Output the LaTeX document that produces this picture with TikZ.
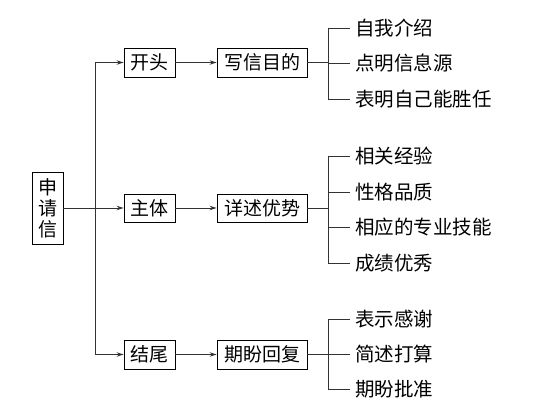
\documentclass[tikz,border=0pt]{standalone}
\usepackage{fontspec}
\setmainfont{Noto Sans CJK SC}
\usetikzlibrary{arrows.meta}
\tikzset{
  box/.style={draw=black, line width=0.9pt, inner sep=0pt, minimum height=29pt, font=\fontsize{19}{21}\selectfont},
  item/.style={anchor=west, inner sep=0pt, font=\fontsize{19.5}{21}\selectfont},
  conn/.style={draw=black!80, line width=0.9pt},
  arr/.style={conn, -{Stealth[length=7pt,width=4.5pt]}}
}
\begin{document}
\begin{tikzpicture}[x=1pt,y=-1pt]
\useasboundingbox (0,0) rectangle (539,419);
% main nodes
\node[box, minimum width=31pt, minimum height=72pt, align=center] (sqx) at (47.5,208) {申\\请\\信};
\node[box, minimum width=51pt] (kt) at (149.5,62.5) {开头};
\node[box, minimum width=90pt] (xx) at (262,62.5) {写信目的};
\node[box, minimum width=51pt, minimum height=28pt] (zt) at (149.5,208) {主体};
\node[box, minimum width=90pt, minimum height=28pt] (xs) at (262,208) {详述优势};
\node[box, minimum width=51pt] (jw) at (149.5,354.5) {结尾};
\node[box, minimum width=90pt] (pp) at (262,354.5) {期盼回复};
% left trunk
\coordinate (v) at (95,208);
\draw[arr] (v) |- (kt.west);
\draw[arr] (v) |- (jw.west);
\draw[arr] (sqx.east) -- (zt.west);
\draw[arr] (kt.east) -- (xx.west);
\draw[arr] (zt.east) -- (xs.west);
\draw[arr] (jw.east) -- (pp.west);
% items
\node[item] (a1) at (355,28) {自我介绍};
\node[item] (a2) at (355,63.5) {点明信息源};
\node[item] (a3) at (355,99) {表明自己能胜任};
\node[item] (b1) at (355,156) {相关经验};
\node[item] (b2) at (355,192) {性格品质};
\node[item] (b3) at (355,227.5) {相应的专业技能};
\node[item] (b4) at (355,263) {成绩优秀};
\node[item] (c1) at (355,319) {表示感谢};
\node[item] (c2) at (355,354) {简述打算};
\node[item] (c3) at (355,389) {期盼批准};
% brackets
\coordinate (ta) at (328,62.5);
\coordinate (tb) at (328,208);
\coordinate (tc) at (328,354.5);
\draw[conn] (xx.east) -- (ta);
\draw[conn] (xs.east) -- (tb);
\draw[conn] (pp.east) -- (tc);
\draw[conn] ([xshift=-5pt]a1.west) -| (ta);
\draw[conn] ([xshift=-5pt]a3.west) -| (ta);
\draw[conn] ([xshift=-5pt]a2.west) -- (a2.west -| ta);
\draw[conn] ([xshift=-5pt]b1.west) -| (tb);
\draw[conn] ([xshift=-5pt]b4.west) -| (tb);
\draw[conn] ([xshift=-5pt]b2.west) -- (b2.west -| tb);
\draw[conn] ([xshift=-5pt]b3.west) -- (b3.west -| tb);
\draw[conn] ([xshift=-5pt]c1.west) -| (tc);
\draw[conn] ([xshift=-5pt]c3.west) -| (tc);
\draw[conn] ([xshift=-5pt]c2.west) -- (c2.west -| tc);
\end{tikzpicture}
\end{document}
